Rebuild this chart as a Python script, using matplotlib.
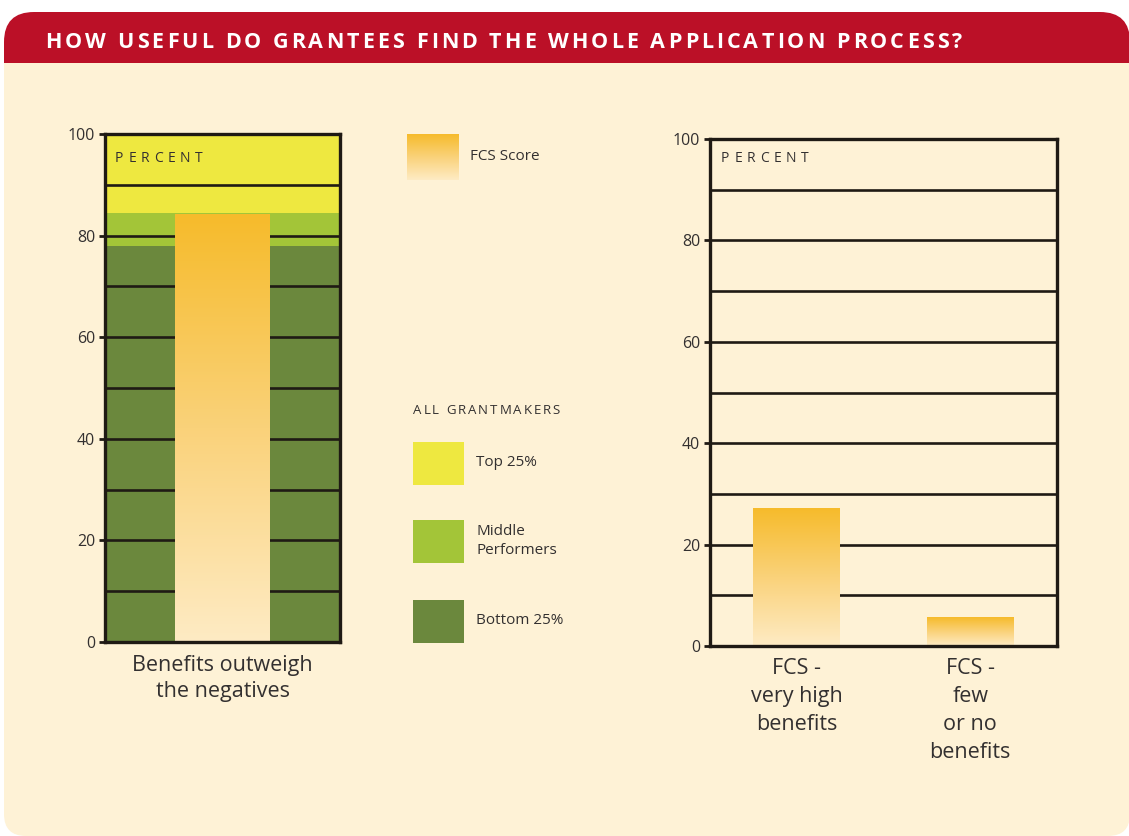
import numpy as np
import matplotlib
matplotlib.use("Agg")
import matplotlib.pyplot as plt
from matplotlib.patches import Rectangle, FancyBboxPatch
from matplotlib.colors import LinearSegmentedColormap

plt.rcParams['font.family'] = ['Open Sans', 'DejaVu Sans']

# ---------------- data ----------------
title = "HOW USEFUL DO GRANTEES FIND THE WHOLE APPLICATION PROCESS?"
left_categories = ["Benefits outweigh\nthe negatives"]
left_fcs = [84.2]
band_edges = [0, 78, 84.5, 100]          # bottom 25% / middle performers / top 25%
band_names = ["Bottom 25%", "Middle\nPerformers", "Top 25%"]
right_categories = ["FCS -\nvery high\nbenefits", "FCS -\nfew\nor no\nbenefits"]
right_fcs = [27.2, 5.7]
yticks = [0, 20, 40, 60, 80, 100]
grid_vals = [10, 20, 30, 40, 50, 60, 70, 80, 90]

# ---------------- style ----------------
RED = "#BB1027"
CREAM = "#FEF2D6"
TXT = "#333030"
LINE = "#1f1a14"
band_colors = ["#6B883D", "#A3C538", "#EEE840"]
grad_cmap = LinearSegmentedColormap.from_list("fcs", ["#FEEBC4", "#FAD27A", "#F6BB2B"])

W, H = 1129, 836
fig = plt.figure(figsize=(W / 100, H / 100), dpi=100)
fig.patch.set_facecolor("white")

bg = fig.add_axes([0, 0, 1, 1], zorder=0)
bg.set_xlim(0, W)
bg.set_ylim(H, 0)
bg.axis("off")

top = fig.add_axes([0, 0, 1, 1], zorder=6)
top.set_xlim(0, W)
top.set_ylim(H, 0)
top.axis("off")
top.patch.set_alpha(0)

# header + panel
bg.add_patch(FancyBboxPatch((4, 12), W - 3, 120, boxstyle="round,pad=0,rounding_size=30",
                            fc=RED, ec="none"))
bg.add_patch(FancyBboxPatch((4, 63), W - 3, H - 63, boxstyle="round,pad=0,rounding_size=22",
                            fc=CREAM, ec="none"))
bg.add_patch(Rectangle((4, 63), W + 40, 120, fc=CREAM, ec="none"))

renderer = fig.canvas.get_renderer()


def tracked(ax, x, y, s, width=None, track=0.0, **kw):
    """Draw letter-spaced text starting at x (pixel coords)."""
    tmp = ax.text(0, 0, "a a", **kw)
    w_aa = tmp.get_window_extent(renderer).width
    tmp.set_text("aa")
    w_a2 = tmp.get_window_extent(renderer).width
    tmp.remove()
    space_w = w_aa - w_a2
    widths = []
    for ch in s:
        if ch == " ":
            widths.append(space_w)
        else:
            t = ax.text(0, 0, ch, **kw)
            widths.append(t.get_window_extent(renderer).width)
            t.remove()
    if width is not None and len(s) > 1:
        track = (width - sum(widths)) / (len(s) - 1)
    for ch, w in zip(s, widths):
        if ch != " ":
            ax.text(x, y, ch, ha="left", va="center", **kw)
        x += w + track


tracked(top, 45, 42, title, width=917, fontsize=15.5, fontweight="bold", color="white")

# shadow for the left box
for k in range(1, 14):
    bg.add_patch(Rectangle((108, 137), 235 + k, 508 + k * 0.8, fc="#6b5a3a",
                           ec="none", alpha=0.035, zorder=0))


def gradient_bars(ax, xs, vals, width):
    bars = ax.bar(xs, vals, width, color="none", edgecolor="none", zorder=3)
    grad = np.linspace(0, 1, 256).reshape(-1, 1)
    for b in bars:
        x0, y0, w, h = b.get_x(), b.get_y(), b.get_width(), b.get_height()
        im = ax.imshow(grad, extent=[x0, x0 + w, y0, y0 + h], origin="lower",
                       aspect="auto", cmap=grad_cmap, zorder=3, interpolation="bilinear")
        im.set_clip_path(b)
    return bars


def style_axes(ax):
    for sp in ax.spines.values():
        sp.set_linewidth(2.4)
        sp.set_color(LINE)
        sp.set_zorder(10)
    ax.set_ylim(0, 100)
    ax.set_yticks(yticks)
    ax.set_yticklabels([str(v) for v in yticks], fontsize=11.5, color=TXT)
    ax.tick_params(axis="y", length=4, width=2, color=LINE, pad=3)
    ax.tick_params(axis="x", length=0, pad=9, labelsize=15.5, labelcolor=TXT)
    for v in grid_vals:
        ax.axhline(v, color=LINE, lw=1.9, zorder=2)


# ---------------- left chart ----------------
ax1 = fig.add_axes([105 / W, (H - 642) / H, 235 / W, 508 / H], zorder=2)
ax1.set_facecolor("none")
for lo, hi, c in zip(band_edges[:-1], band_edges[1:], band_colors):
    ax1.axhspan(lo, hi, color=c, zorder=1, lw=0)
gradient_bars(ax1, [0.5], left_fcs, 0.404)
style_axes(ax1)
ax1.set_xlim(0, 1)
ax1.set_ylim(0, 100)
ax1.set_xticks([0.5])
ax1.set_xticklabels(left_categories, linespacing=1.35)

# ---------------- right chart ----------------
ax2 = fig.add_axes([710 / W, (H - 646) / H, 347 / W, 507 / H], zorder=2)
ax2.set_facecolor("none")
gradient_bars(ax2, [0, 1], right_fcs, 0.50)
style_axes(ax2)
ax2.set_xlim(-0.5, 1.5)
ax2.set_ylim(0, 100)
ax2.set_xticks([0, 1])
ax2.set_xticklabels(right_categories, linespacing=1.42, va="top")

tracked(top, 115, 159, "PERCENT", width=88, fontsize=10, color=TXT)
tracked(top, 721, 159, "PERCENT", width=88, fontsize=10, color=TXT)

# ---------------- legend ----------------
lg = fig.add_axes([407 / W, (H - 180) / H, 52 / W, 46 / H], zorder=2)
lg.imshow(np.linspace(0, 1, 256).reshape(-1, 1), origin="lower", aspect="auto",
          cmap=grad_cmap, extent=[0, 1, 0, 1])
lg.axis("off")
top.text(470, 157, "FCS Score", fontsize=11, color=TXT, va="center", ha="left")

tracked(top, 413, 410, "ALL GRANTMAKERS", width=147, fontsize=9.5, color=TXT)
sw_tops = [600, 520, 442]
for name, c, t0 in zip(band_names, band_colors, sw_tops):
    bg.add_patch(Rectangle((413, t0), 51, 43, fc=c, ec="none"))
    top.text(476, t0 + 21, name, fontsize=11, color=TXT, va="center", ha="left",
             linespacing=1.3)

fig.savefig("out.png", dpi=100, facecolor=fig.get_facecolor())
